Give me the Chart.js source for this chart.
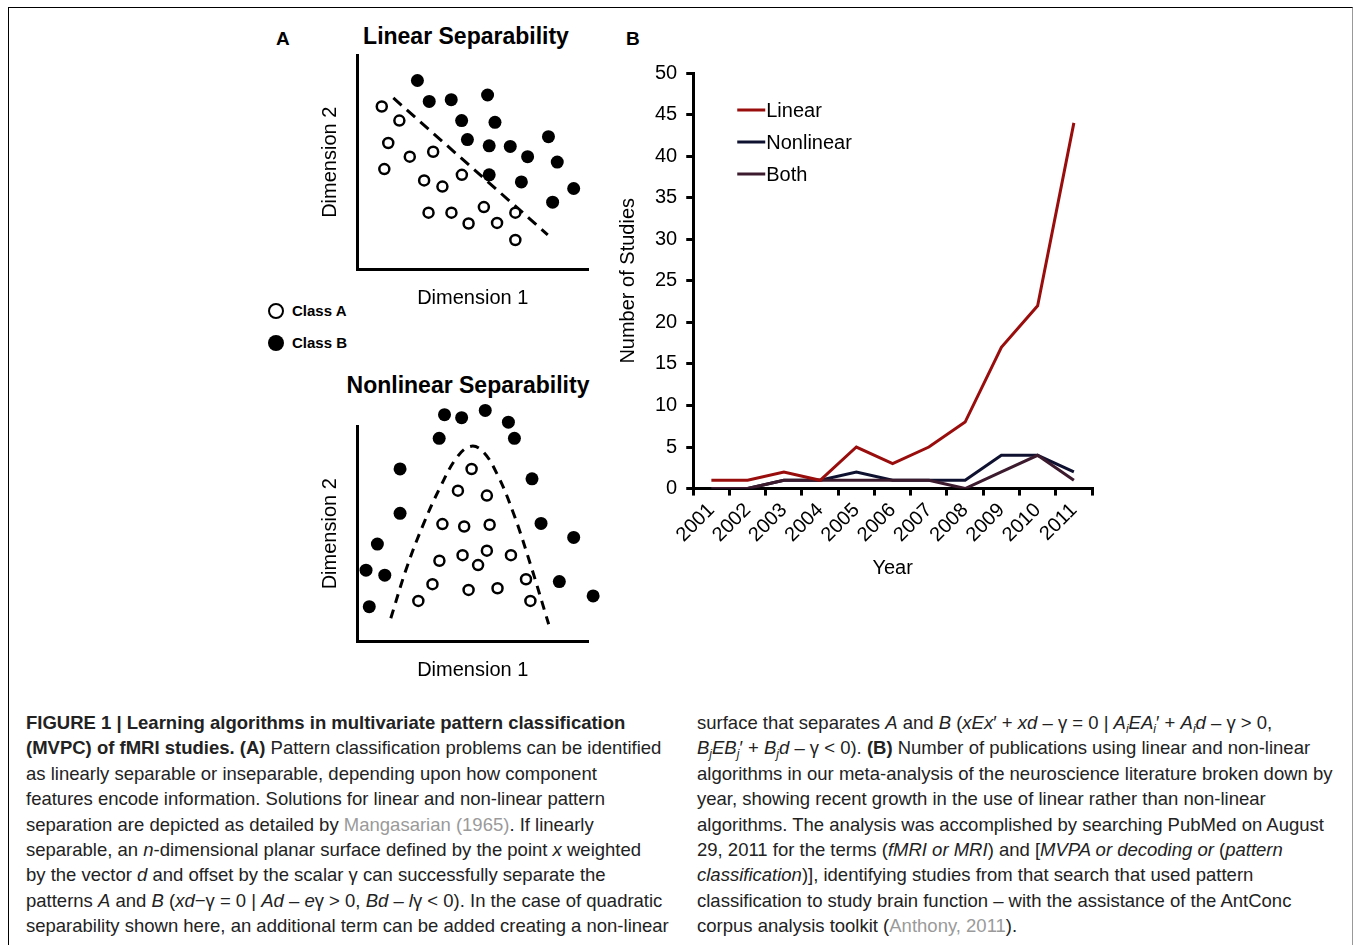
<!DOCTYPE html>
<html>
<head>
<meta charset="utf-8">
<script src="https://cdn.jsdelivr.net/npm/chart.js@4.4.1/dist/chart.umd.min.js"></script>
<style>
  body { margin: 0; background: #fff; width: 1354px; height: 945px; overflow: hidden; position: relative;
         font-family: "Liberation Sans", Arial, sans-serif; }
  .frame { position: absolute; left: 8px; top: 7px; width: 1343px; height: 960px;
           border-top: 1px solid #000; border-left: 1px solid #000; border-right: 1px solid #999; }
  canvas { position: absolute; }
  .panel { position: absolute; font-weight: bold; font-size: 19px; color: #000; line-height: 1; }
  .title { position: absolute; font-weight: bold; font-size: 23px; color: #000; white-space: nowrap;
           transform: translateX(-50%); line-height: 1; }
  .cls { position: absolute; left: 268px; font-weight: bold; font-size: 15px; color: #000; line-height: 16px; }
  .cls span.dot { display: inline-block; box-sizing: border-box; width: 16px; height: 16px; border-radius: 50%;
                  vertical-align: middle; margin-right: 8px; position: relative; top: -1px; }
  .cap { position: absolute; top: 710px; font-size: 18.5px; line-height: 25.4px; color: #222; white-space: nowrap; }
  .cap > div { height: 25.4px; }
  .cap .ref { color: #9a9a9a; }
  .cap sub { font-size: 0.65em; line-height: 0; vertical-align: -0.3em; }
</style>
</head>
<body>
<div class="frame"></div>

<div class="panel" style="left:276px;top:29px">A</div>
<div class="panel" style="left:626px;top:29px">B</div>
<div class="title" style="left:466px;top:25px">Linear Separability</div>
<div class="title" style="left:468px;top:374px">Nonlinear Separability</div>

<div class="cls" style="top:303px"><span class="dot" style="border:2.5px solid #000;background:#fff"></span>Class A</div>
<div class="cls" style="top:335px"><span class="dot" style="background:#000"></span>Class B</div>

<canvas id="linearSep"></canvas>
<canvas id="nonlinearSep"></canvas>
<canvas id="studies"></canvas>

<div class="cap" style="left:26px">
  <div><b>FIGURE 1 | Learning algorithms in multivariate pattern classification</b></div>
  <div><b>(MVPC) of fMRI studies. (A)</b> Pattern classification problems can be identified</div>
  <div>as linearly separable or inseparable, depending upon how component</div>
  <div>features encode information. Solutions for linear and non-linear pattern</div>
  <div>separation are depicted as detailed by <span class="ref">Mangasarian (1965)</span>. If linearly</div>
  <div>separable, an <i>n</i>-dimensional planar surface defined by the point <i>x</i> weighted</div>
  <div>by the vector <i>d</i> and offset by the scalar γ can successfully separate the</div>
  <div>patterns <i>A</i> and <i>B</i> (<i>xd</i>−γ = 0 | <i>Ad</i> – <i>e</i>γ &gt; 0, <i>Bd</i> – <i>l</i>γ &lt; 0). In the case of quadratic</div>
  <div>separability shown here, an additional term can be added creating a non-linear</div>
</div>
<div class="cap" style="left:697px">
  <div>surface that separates <i>A</i> and <i>B</i> (<i>xEx</i>′ + <i>xd</i> – γ = 0 | <i>A<sub>i</sub>EA<sub>i</sub></i>′ + <i>A<sub>i</sub>d</i> – γ &gt; 0,</div>
  <div><i>B<sub>j</sub>EB<sub>j</sub></i>′ + <i>B<sub>j</sub>d</i> – γ &lt; 0). <b>(B)</b> Number of publications using linear and non-linear</div>
  <div>algorithms in our meta-analysis of the neuroscience literature broken down by</div>
  <div>year, showing recent growth in the use of linear rather than non-linear</div>
  <div>algorithms. The analysis was accomplished by searching PubMed on August</div>
  <div>29, 2011 for the terms (<i>fMRI or MRI</i>) and [<i>MVPA or decoding or</i> (<i>pattern</i></div>
  <div><i>classification</i>)], identifying studies from that search that used pattern</div>
  <div>classification to study brain function – with the assistance of the AntConc</div>
  <div>corpus analysis toolkit (<span class="ref">Anthony, 2011</span>).</div>
</div>

<script>
// Panel B: number of studies per year
const years = ['2001', '2002', '2003', '2004', '2005', '2006', '2007', '2008', '2009', '2010', '2011'];
const linearCounts = [1, 1, 2, 1, 5, 3, 5, 8, 17, 22, 44];
const nonlinearCounts = [0, 0, 1, 1, 2, 1, 1, 1, 4, 4, 2];
const bothCounts = [0, 0, 1, 1, 1, 1, 1, 0, 2, 4, 1];
const studiesMin = 0, studiesMax = 50, studiesStep = 5;

// Panel A, top: linear separability (arbitrary units 0-10)
const linClassA = [
  {x: 1.07, y: 7.61}, {x: 1.83, y: 6.95}, {x: 1.35, y: 5.90}, {x: 2.28, y: 5.26},
  {x: 3.29, y: 5.49}, {x: 1.18, y: 4.68}, {x: 4.53, y: 4.41}, {x: 2.90, y: 4.15},
  {x: 3.69, y: 3.86}, {x: 3.09, y: 2.64}, {x: 4.08, y: 2.64}, {x: 5.48, y: 2.90},
  {x: 6.84, y: 2.64}, {x: 4.82, y: 2.13}, {x: 6.05, y: 2.16}, {x: 6.84, y: 1.36}
];
const linClassB = [
  {x: 2.61, y: 8.83}, {x: 3.12, y: 7.85}, {x: 4.07, y: 7.93}, {x: 5.64, y: 8.15},
  {x: 4.52, y: 6.95}, {x: 5.96, y: 6.87}, {x: 8.27, y: 6.20}, {x: 4.77, y: 6.06},
  {x: 5.71, y: 5.77}, {x: 6.62, y: 5.74}, {x: 7.37, y: 5.26}, {x: 8.65, y: 5.01},
  {x: 5.71, y: 4.41}, {x: 7.10, y: 4.08}, {x: 9.36, y: 3.77}, {x: 8.45, y: 3.13}
];
const linBoundary = [{x: 1.57, y: 8.01}, {x: 8.24, y: 1.60}];

// Panel A, bottom: nonlinear separability
const nonClassA = [
  {x: 4.95, y: 8.02}, {x: 4.36, y: 7.01}, {x: 5.61, y: 6.78}, {x: 3.69, y: 5.45},
  {x: 4.63, y: 5.34}, {x: 5.73, y: 5.42}, {x: 3.56, y: 3.74}, {x: 4.56, y: 4.00},
  {x: 5.61, y: 4.21}, {x: 5.23, y: 3.54}, {x: 6.65, y: 4.00}, {x: 3.26, y: 2.65},
  {x: 7.30, y: 2.88}, {x: 4.82, y: 2.38}, {x: 6.07, y: 2.46}, {x: 2.65, y: 1.87},
  {x: 7.49, y: 1.87}
];
const nonClassB = [
  {x: 3.78, y: 10.55}, {x: 4.52, y: 10.41}, {x: 5.54, y: 10.75}, {x: 6.54, y: 10.20},
  {x: 3.55, y: 9.45}, {x: 6.80, y: 9.45}, {x: 1.86, y: 8.02}, {x: 7.56, y: 7.56},
  {x: 1.86, y: 5.95}, {x: 7.95, y: 5.48}, {x: 0.88, y: 4.52}, {x: 9.36, y: 4.83},
  {x: 0.39, y: 3.30}, {x: 1.20, y: 3.07}, {x: 8.74, y: 2.77}, {x: 0.53, y: 1.60},
  {x: 10.20, y: 2.10}
];
const nonBoundary = [
  {x: 1.46, y: 1.06}, {x: 2.15, y: 3.43}, {x: 2.87, y: 5.45}, {x: 3.59, y: 7.16},
  {x: 4.32, y: 8.57}, {x: 4.89, y: 9.07}, {x: 5.40, y: 8.88}, {x: 6.05, y: 7.79},
  {x: 6.77, y: 5.92}, {x: 7.49, y: 3.58}, {x: 8.28, y: 0.78}
];

Chart.defaults.font.family = '"Liberation Sans", Arial, sans-serif';
Chart.defaults.color = '#000';

// legend drawn inside the plot area of panel B
const insideLegend = {
  id: 'insideLegend',
  afterDraw(chart, args, opts) {
    const {ctx, chartArea} = chart;
    ctx.save();
    ctx.font = '20px "Liberation Sans", Arial, sans-serif';
    ctx.textBaseline = 'middle';
    chart.data.datasets.forEach((ds, i) => {
      const x = chartArea.left + opts.left;
      const y = chartArea.top + opts.top + i * opts.rowGap;
      ctx.strokeStyle = ds.borderColor;
      ctx.lineWidth = 3;
      ctx.beginPath();
      ctx.moveTo(x, y);
      ctx.lineTo(x + opts.lineLen, y);
      ctx.stroke();
      ctx.fillStyle = '#000';
      ctx.fillText(ds.label, x + opts.lineLen + 1, y + 1);
    });
    ctx.restore();
  }
};

// build chart twice: first to measure the margins round the plot area, then sized so the plot area lands on target
function placeChart(id, makeConfig, area) {
  const cv = document.getElementById(id);
  cv.width = 700; cv.height = 700;
  let chart = new Chart(cv, makeConfig());
  const ca = chart.chartArea;
  const L = ca.left, T = ca.top, R = chart.width - ca.right, B = chart.height - ca.bottom;
  chart.destroy();
  cv.width = Math.round(L + area.w + R);
  cv.height = Math.round(T + area.h + B);
  cv.style.left = (area.x - L) + 'px';
  cv.style.top = (area.y - T) + 'px';
  return new Chart(cv, makeConfig());
}

function sepConfig(classA, classB, boundary, curved, dash, pad) {
  return () => ({
    type: 'scatter',
    data: {
      datasets: [
        {label: 'Boundary', data: boundary, showLine: true, borderColor: '#000', borderWidth: 3,
         borderDash: dash, pointRadius: 0, tension: curved ? 0.4 : 0, clip: false, order: 2},
        // hover radius only widens the area in which a dot may still be drawn (some sit above the axis)
        {label: 'Class A', data: classA, pointRadius: 5, pointHoverRadius: 24, pointBorderWidth: 2.5,
         pointBorderColor: '#000', pointBackgroundColor: '#fff', clip: false, order: 1},
        {label: 'Class B', data: classB, pointRadius: 6.5, pointHoverRadius: 24, pointBorderWidth: 0,
         pointBackgroundColor: '#000', pointBorderColor: '#000', clip: false, order: 0}
      ]
    },
    options: {
      responsive: false,
      animation: false,
      devicePixelRatio: 1,
      events: [],
      layout: {padding: pad},
      plugins: {legend: {display: false}, tooltip: {enabled: false}},
      scales: {
        x: {
          min: 0, max: 10,
          grid: {display: false, drawTicks: false},
          ticks: {display: false},
          border: {color: '#000', width: 3},
          title: {display: true, text: 'Dimension 1', font: {size: 20}, padding: {top: 17, bottom: 0}}
        },
        y: {
          min: 0, max: 10,
          grid: {display: false, drawTicks: false},
          ticks: {display: false},
          border: {color: '#000', width: 3},
          title: {display: true, text: 'Dimension 2', font: {size: 20}, padding: {top: 0, bottom: 15}}
        }
      }
    }
  });
}

placeChart('linearSep',
  sepConfig(linClassA, linClassB, linBoundary, false, [11, 7], {top: 6, right: 6, left: 4, bottom: 2}),
  {x: 357, y: 55, w: 231, h: 213});

placeChart('nonlinearSep',
  sepConfig(nonClassA, nonClassB, nonBoundary, true, [9, 7], {top: 26, right: 16, left: 4, bottom: 2}),
  {x: 357, y: 426, w: 231, h: 214});

placeChart('studies', () => ({
  type: 'line',
  data: {
    labels: years,
    datasets: [
      {label: 'Linear', data: linearCounts, borderColor: '#990d0d', order: 0},
      {label: 'Nonlinear', data: nonlinearCounts, borderColor: '#0f1130', order: 2},
      {label: 'Both', data: bothCounts, borderColor: '#3c1b2e', order: 1}
    ]
  },
  options: {
    responsive: false,
    animation: false,
    devicePixelRatio: 1,
    layout: {padding: {top: 14, right: 8, left: 2, bottom: 2}},
    elements: {line: {borderWidth: 3, tension: 0}, point: {radius: 0}},
    plugins: {
      legend: {display: false},
      tooltip: {enabled: false},
      insideLegend: {left: 44, top: 37, rowGap: 32, lineLen: 28}
    },
    scales: {
      x: {
        offset: true,
        grid: {display: true, drawOnChartArea: false, offset: true, tickLength: 7, lineWidth: 3, color: '#000'},
        border: {color: '#000', width: 3},
        ticks: {font: {size: 20}, minRotation: 45, maxRotation: 45, padding: 3, autoSkip: false},
        title: {display: true, text: 'Year', font: {size: 20}, padding: {top: 6, bottom: 0}}
      },
      y: {
        min: studiesMin, max: studiesMax,
        grid: {drawOnChartArea: false, tickLength: 7, lineWidth: 3, color: '#000'},
        border: {color: '#000', width: 3},
        ticks: {stepSize: studiesStep, font: {size: 20}, padding: 9},
        title: {display: true, text: 'Number of Studies', font: {size: 20}, padding: {top: 0, bottom: 6}}
      }
    }
  },
  plugins: [insideLegend]
}), {x: 693, y: 73, w: 399, h: 416});
</script>
</body>
</html>
